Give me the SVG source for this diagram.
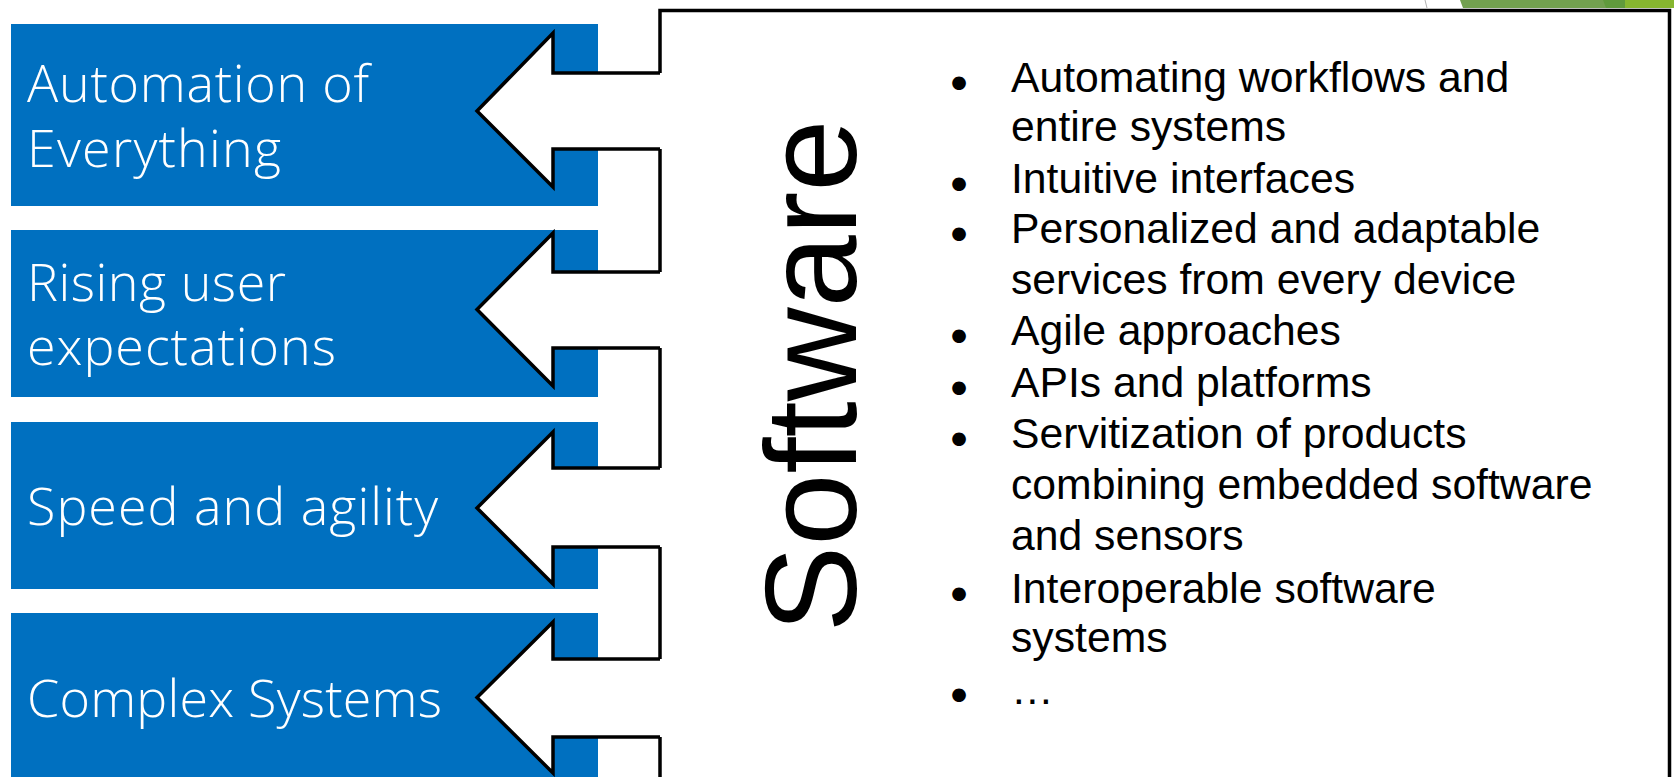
<svg xmlns="http://www.w3.org/2000/svg" width="1674" height="777" viewBox="0 0 1674 777">
  <style>
    .blue { fill: #0070C0; }
    .label { font-family: "Open Sans", "Lato", "Liberation Sans", sans-serif; font-weight: 300; font-size: 52px; fill: #FFFFFF; }
    .item { font-family: "Liberation Sans", Arial, sans-serif; font-size: 42.7px; fill: #000000; }
    .bullet { font-family: "Liberation Sans", Arial, sans-serif; font-size: 43px; fill: #000000; stroke: #000000; stroke-width: 2; }
    .title { font-family: "Liberation Sans", Arial, sans-serif; font-size: 130px; fill: #000000; }
    .outline { fill: none; stroke: #000000; stroke-width: 3.5; stroke-linejoin: miter; }
    .arrowfill { fill: #FFFFFF; stroke: none; }
  </style>
  <rect width="1674" height="777" fill="#FFFFFF"/>

  <g id="decor">
    <polygon points="1460,0 1674,0 1674,8 1463,8" fill="#72A04F"/>
    <polygon points="1603,0 1625,0 1625,8 1606,8" fill="#609A3C"/>
    <polygon points="1625,0 1674,0 1674,8 1625,8" fill="#86B62F"/>
    <line x1="1425" y1="0" x2="1427" y2="8" stroke="#B0B0B0" stroke-width="1"/>
  </g>

  <g id="node-automation">
    <rect class="blue" x="11" y="24" width="587" height="182"/>
    <text class="label" x="27" y="101.8" textLength="342" lengthAdjust="spacing">Automation of</text>
    <text class="label" x="27" y="166.6" textLength="254" lengthAdjust="spacing">Everything</text>
  </g>
  <g id="node-rising">
    <rect class="blue" x="11" y="230" width="587" height="167"/>
    <text class="label" x="27" y="300.8" textLength="259" lengthAdjust="spacing">Rising user</text>
    <text class="label" x="27" y="365.4" textLength="309" lengthAdjust="spacing">expectations</text>
  </g>
  <g id="node-speed">
    <rect class="blue" x="11" y="422" width="587" height="167"/>
    <text class="label" x="27" y="524.5" textLength="411" lengthAdjust="spacing">Speed and agility</text>
  </g>
  <g id="node-complex">
    <rect class="blue" x="11" y="613" width="587" height="180"/>
    <text class="label" x="27" y="717" textLength="415" lengthAdjust="spacing">Complex Systems</text>
  </g>

  <g id="node-software">
    <rect x="660" y="10.5" width="1009.5" height="800" fill="#FFFFFF" stroke="#000000" stroke-width="3.5"/>
    <text class="title" transform="translate(856,376) rotate(-90)" text-anchor="middle">Software</text>
    <text id="bullets" class="bullet"><tspan x="951.5" y="97.1">•</tspan><tspan x="951.5" y="197.9">•</tspan><tspan x="951.5" y="248.4">•</tspan><tspan x="951.5" y="350.4">•</tspan><tspan x="951.5" y="401.9">•</tspan><tspan x="951.5" y="453.1">•</tspan><tspan x="951.5" y="608.1">•</tspan><tspan x="951.5" y="709.4">•</tspan></text>
    <text class="item" x="1011" y="91.7">Automating workflows and</text>
    <text class="item" x="1011" y="140.5">entire systems</text>
    <text class="item" x="1011" y="192.5">Intuitive interfaces</text>
    <text class="item" x="1011" y="243">Personalized and adaptable</text>
    <text class="item" x="1011" y="293.5">services from every device</text>
    <text class="item" x="1011" y="345">Agile approaches</text>
    <text class="item" x="1011" y="396.5">APIs and platforms</text>
    <text class="item" x="1011" y="447.7">Servitization of products</text>
    <text class="item" x="1011" y="499.3">combining embedded software</text>
    <text class="item" x="1011" y="550">and sensors</text>
    <text class="item" x="1011" y="602.7">Interoperable software</text>
    <text class="item" x="1011" y="651.7">systems</text>
    <text class="item" x="1011" y="704">…</text>
  </g>

  <g id="connectors">
    <g id="arrow-1">
      <polygon class="arrowfill" points="664,73 553,73 553,33 477,111 553,187 553,149 664,149"/>
      <polyline class="outline" points="660,73 553,73 553,33 477,111 553,187 553,149 660,149"/>
    </g>
    <g id="arrow-2">
      <polygon class="arrowfill" points="664,272 553,272 553,233 477,309.5 553,386 553,348 664,348"/>
      <polyline class="outline" points="660,272 553,272 553,233 477,309.5 553,386 553,348 660,348"/>
    </g>
    <g id="arrow-3">
      <polygon class="arrowfill" points="664,468 553,468 553,432 477,508 553,584 553,547 664,547"/>
      <polyline class="outline" points="660,468 553,468 553,432 477,508 553,584 553,547 660,547"/>
    </g>
    <g id="arrow-4">
      <polygon class="arrowfill" points="664,659 553,659 553,622 477,697.5 553,773 553,737 664,737"/>
      <polyline class="outline" points="660,659 553,659 553,622 477,697.5 553,773 553,737 660,737"/>
    </g>
  </g>
</svg>
